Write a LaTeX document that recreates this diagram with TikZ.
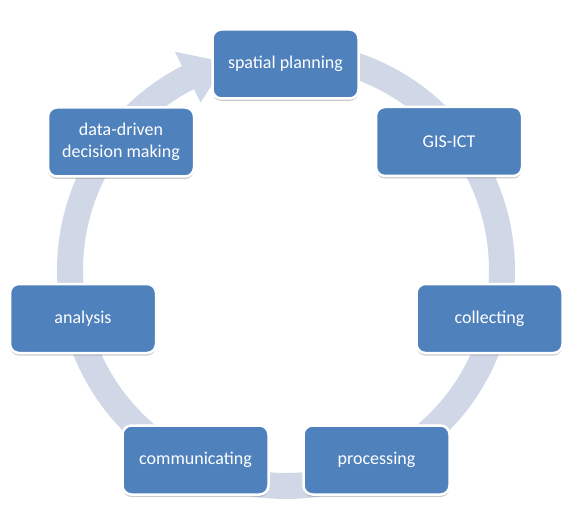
\documentclass[tikz,border=0pt]{standalone}
\usepackage{fontspec}
\setmainfont{Carlito}
\usetikzlibrary{shadows}
\definecolor{boxblue}{HTML}{4F81BD}
\definecolor{ringcol}{HTML}{D0D8E8}
\tikzset{
  stepbox/.style={rounded corners=9pt, fill=boxblue, draw=white, line width=2.5pt,
    minimum width=146pt, minimum height=69pt, align=center, text=white,
    font=\fontsize{18}{22}\selectfont, inner sep=2pt,
    drop shadow={shadow xshift=0pt, shadow yshift=-2.5pt, fill=black!45, opacity=0.45}}
}
\begin{document}
\begin{tikzpicture}[x=1pt,y=-1pt]
\useasboundingbox (0,0) rectangle (574,527);
% ring with arrowhead
\fill[ringcol]
  plot[domain=85:-243, samples=160] ({286+229*cos(\x)},{270-229*sin(\x)})
  -- ({286+245*cos(-243)},{270-245*sin(-243)})
  -- ({286+216*cos(-254)},{270-216*sin(-254)})
  -- ({286+188*cos(-243)},{270-188*sin(-243)})
  -- plot[domain=-243:85, samples=160] ({286+203*cos(\x)},{270-203*sin(\x)})
  -- cycle;
% boxes
\node[stepbox] (s1) at (285.5,64) {spatial planning};
\node[stepbox] (s2) at (449,141.5) {GIS-ICT};
\node[stepbox] (s3) at (489.5,318.5) {collecting};
\node[stepbox] (s4) at (376.5,460) {processing};
\node[stepbox] (s5) at (195.5,460) {communicating};
\node[stepbox] (s6) at (83,318.5) {analysis};
\node[stepbox] (s7) at (121,142) {data-driven\\decision making};
\end{tikzpicture}
\end{document}
